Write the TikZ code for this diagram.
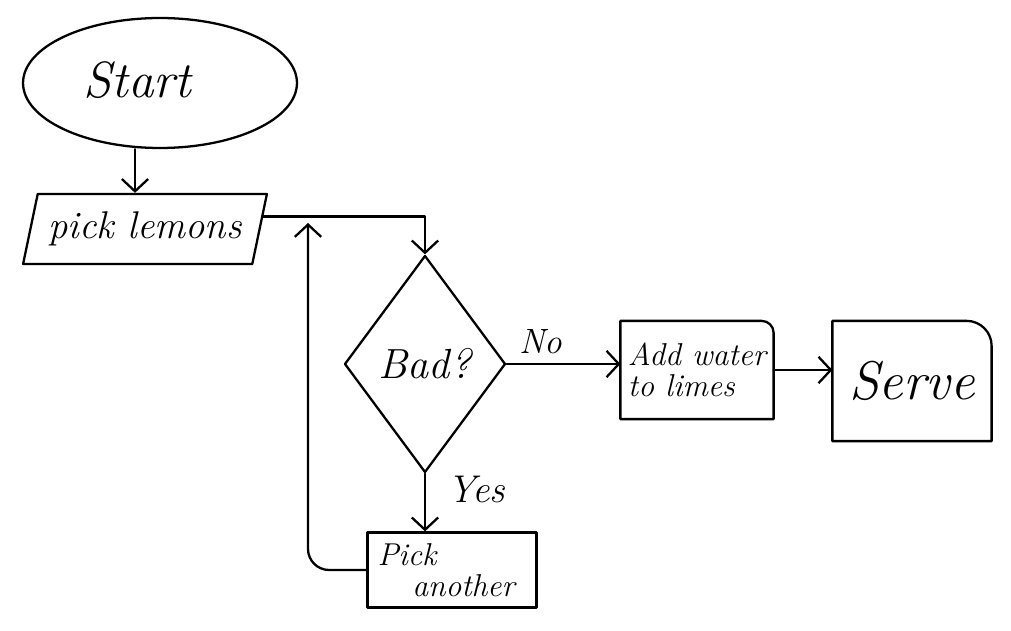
\documentclass[tikz,border=0pt]{standalone}
\usepackage{fontspec}
\usetikzlibrary{shapes.geometric,arrows.meta}
\begin{document}
\begin{tikzpicture}[x=0.02cm,y=-0.02cm, line width=1.3pt, line cap=round, line join=round,
  every node/.style={inner sep=0pt},
  arr/.style={-{Straight Barb[length=7pt,width=15pt,line width=1.3pt]}},
  hand/.style={font=\itshape\fontsize{#1}{#1}\selectfont},
  hand/.default=20pt]
\useasboundingbox (0,0) rectangle (1011,631);
% nodes
\node[draw, ellipse, minimum width=5.48cm, minimum height=2.6cm, hand=29pt] (start) at (160,83)
      {\raisebox{0.15cm}{Start}\kern0.9cm\relax};
\node[draw, trapezium, trapezium left angle=69, trapezium right angle=111, trapezium stretches=true,
      minimum width=4.88cm, minimum height=1.4cm, hand=22pt] (pick) at (145,229) {pick lemons};
\node[draw, diamond, minimum width=3.22cm, minimum height=4.34cm, hand=24pt] (bad) at (425,364) {Bad?};
\node[minimum width=3.02cm, minimum height=1.92cm, align=left, hand=18pt] (add) at (697,370) {Add water\\to limes};
\draw (add.south west) -- (add.north west) -- ([xshift=-0.24cm]add.north east)
      arc[start angle=90, end angle=0, radius=0.24cm] -- (add.south east) -- cycle;
\node[minimum width=3.14cm, minimum height=2.36cm, hand=31pt] (serve) at (912,381) {Serve};
\draw (serve.south west) -- (serve.north west) -- ([xshift=-0.5cm]serve.north east)
      arc[start angle=90, end angle=0, radius=0.5cm] -- (serve.south east) -- cycle;
\node[draw, minimum width=3.38cm, minimum height=1.5cm, inner xsep=0.2cm, text width=2.98cm,
      align=left, hand=18pt] (another) at (452,570)
      {Pick\\\hspace*{1.1em}another};
\coordinate (ret) at (308,223);
\coordinate (c1) at (135,0);
% connectors
\draw[arr] (start.south -| c1) -- (pick.north -| c1);
\draw[arr] (pick.6) -| (bad.north);
\draw[arr] (bad.east) -- (bad.east -| add.west) node[pos=0.3, above=5pt, hand=20pt] (no) {No};
\draw[arr] (add.east) -- (add.east -| serve.west);
\draw[arr] (bad.south) -- (bad.south |- another.north) node[pos=0.28, right=12pt, hand=22pt] (yes) {Yes};
\draw[arr, rounded corners=12pt] (another.west) -| (ret);
\end{tikzpicture}
\end{document}
